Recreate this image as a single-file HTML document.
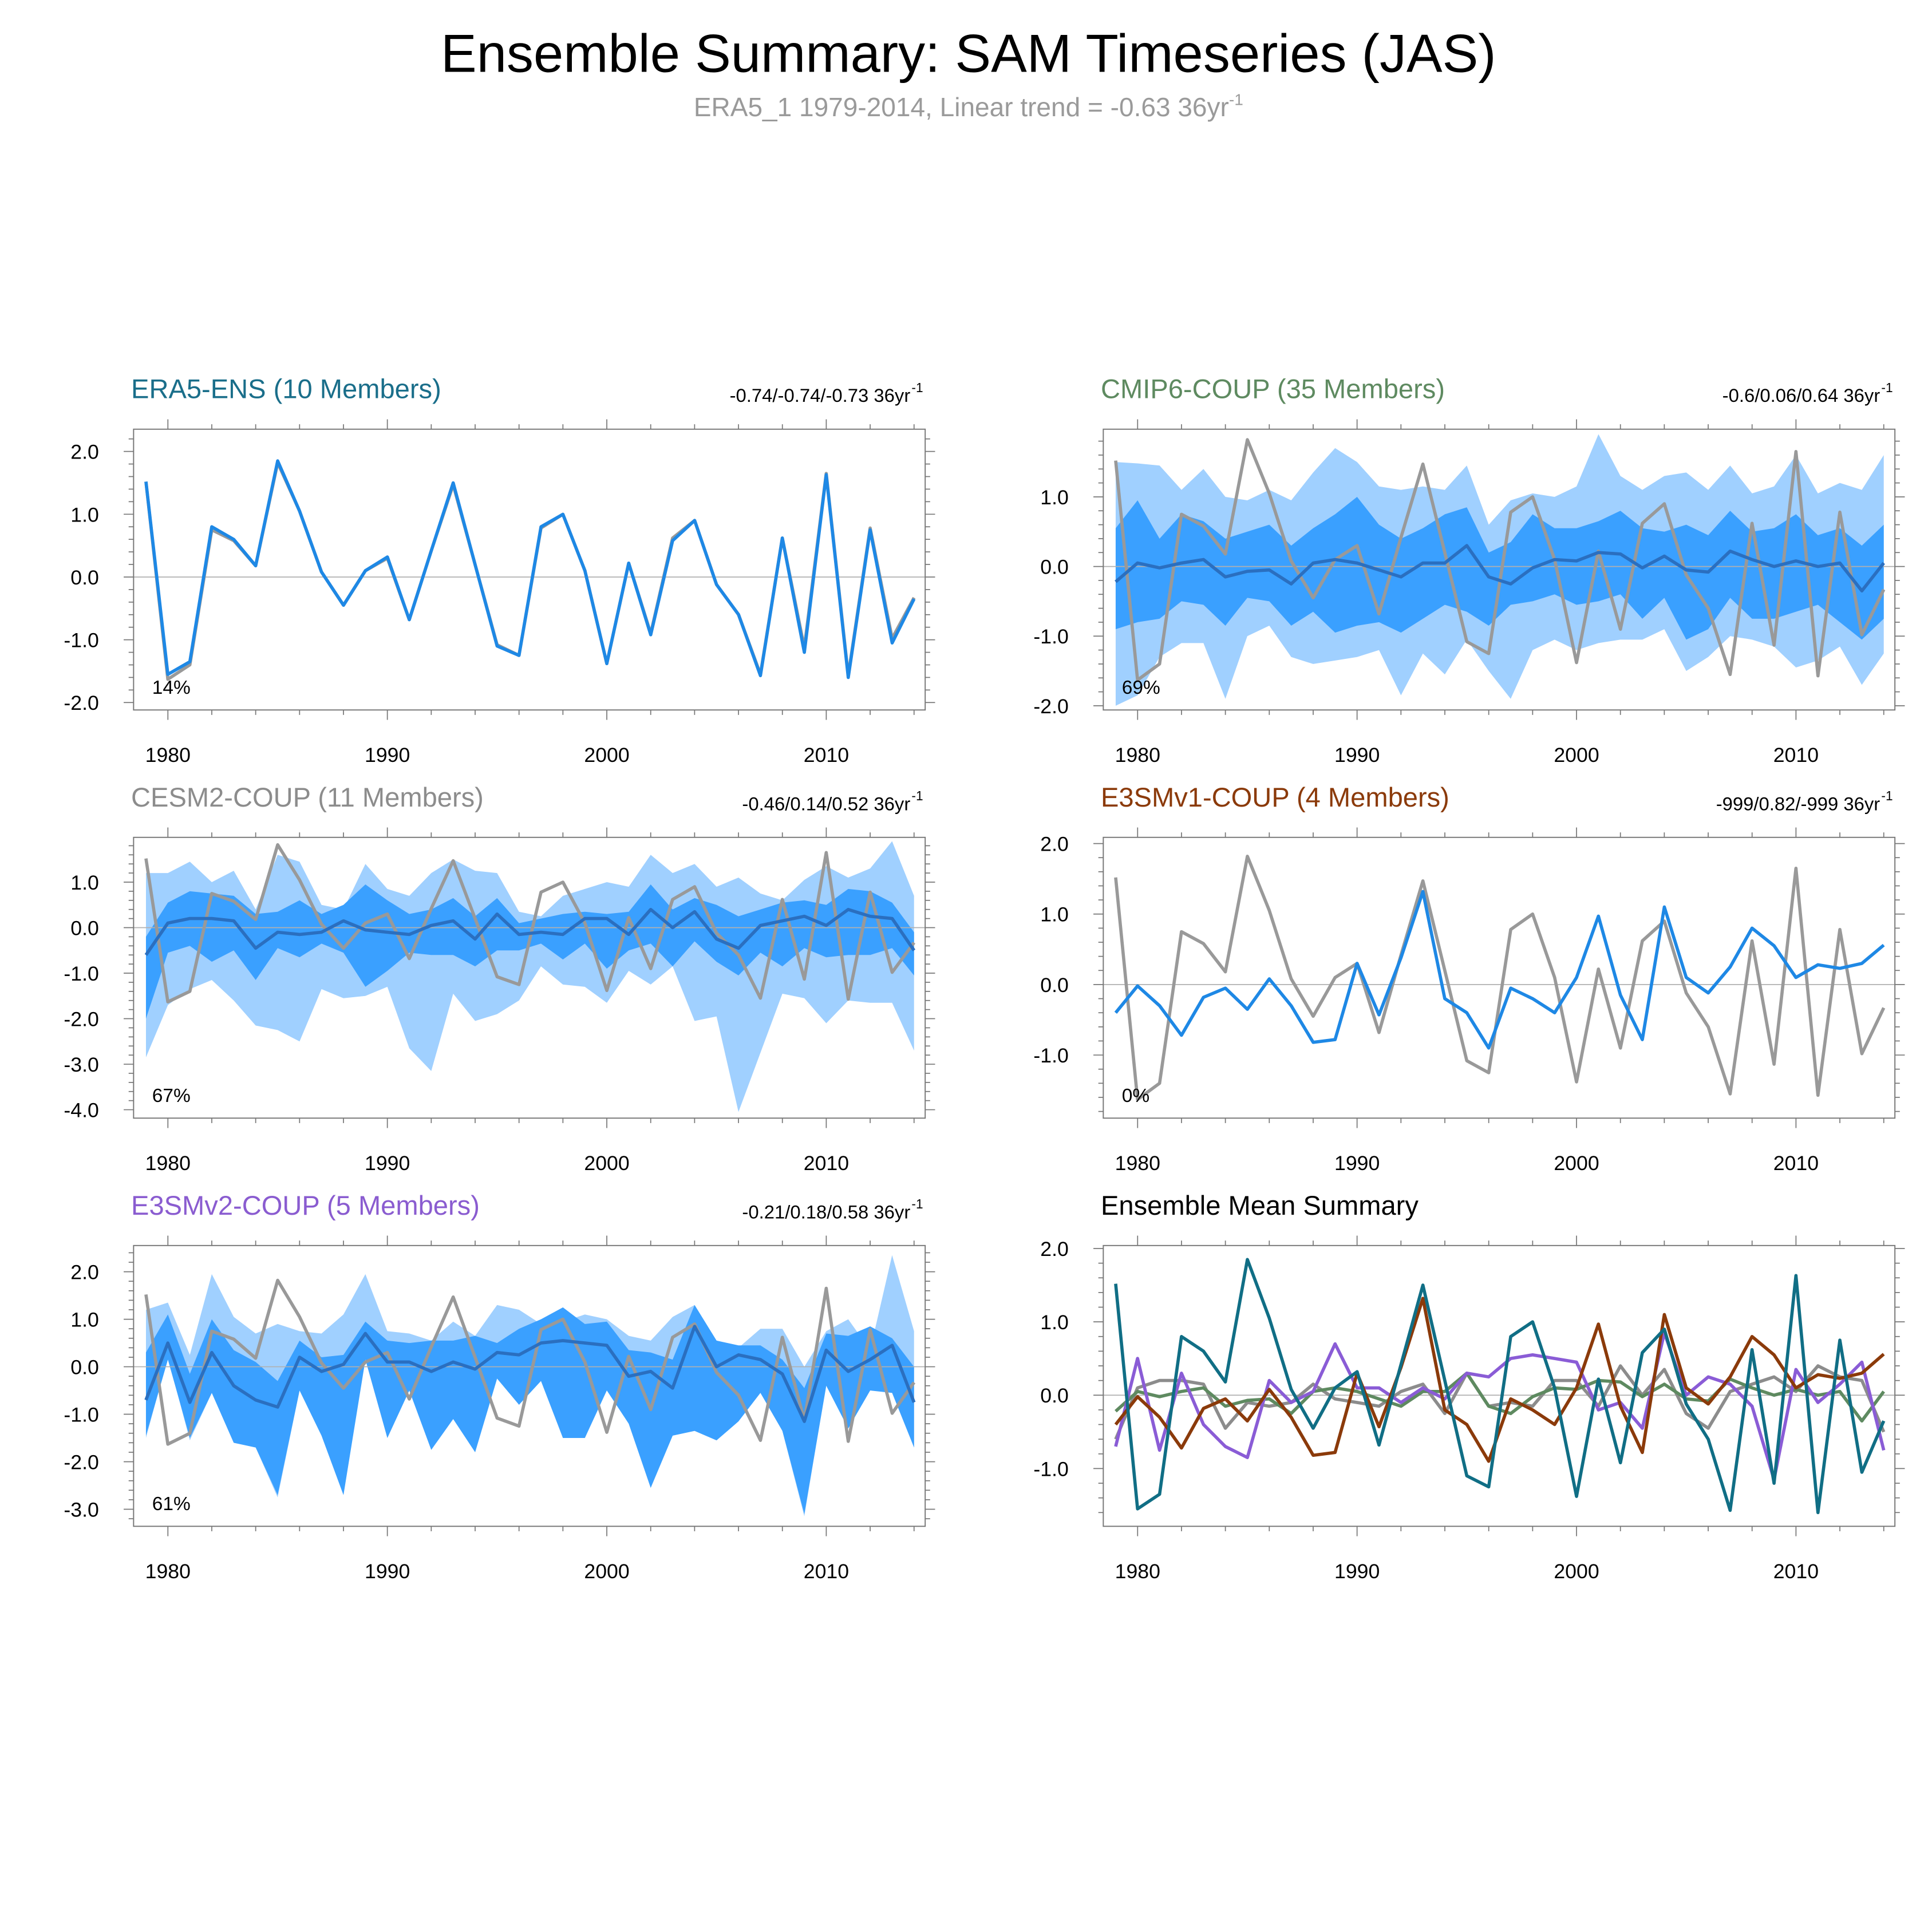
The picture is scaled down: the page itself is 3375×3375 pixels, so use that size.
<!DOCTYPE html>
<html><head><meta charset="utf-8">
<style>html,body{margin:0;padding:0;background:#fff}svg{display:block}text{font-family:"Liberation Sans",sans-serif}</style>
</head><body>
<svg id="chart" xmlns="http://www.w3.org/2000/svg" width="3375" height="3375" viewBox="0 0 1562 1562">
<text x="783" y="58" font-size="43.5" text-anchor="middle" fill="#000">Ensemble Summary: SAM Timeseries (JAS)</text>
<text x="783" y="94" font-size="21.3" text-anchor="middle" fill="#9a9a9a">ERA5_1 1979-2014, Linear trend = -0.63 36yr<tspan font-size="13" dy="-9">-1</tspan></text>
</svg>
<script>
const years = [];
for (let y = 1979; y <= 2014; y++) years.push(y);
const obsERA5 = [1.52,-1.63,-1.4,0.75,0.58,0.18,1.82,1.05,0.08,-0.45,0.1,0.3,-0.68,0.42,1.47,0.2,-1.08,-1.25,0.78,1.0,0.1,-1.38,0.22,-0.9,0.62,0.9,-0.12,-0.6,-1.55,0.62,-1.13,1.65,-1.57,0.78,-0.98,-0.33];
const era5Mean = [1.52,-1.55,-1.35,0.8,0.6,0.18,1.85,1.05,0.08,-0.45,0.1,0.32,-0.68,0.42,1.5,0.2,-1.1,-1.25,0.8,1.0,0.1,-1.38,0.22,-0.92,0.58,0.9,-0.12,-0.6,-1.57,0.62,-1.2,1.63,-1.6,0.75,-1.05,-0.35];
const cmipMean = [-0.22,0.05,-0.02,0.05,0.1,-0.15,-0.07,-0.05,-0.25,0.05,0.1,0.05,-0.05,-0.15,0.05,0.05,0.3,-0.15,-0.25,-0.02,0.1,0.08,0.2,0.18,-0.02,0.15,-0.05,-0.08,0.22,0.1,0.0,0.08,0.0,0.05,-0.35,0.05];
const cmipOutHi = [1.5,1.48,1.45,1.1,1.4,1.0,0.95,1.1,0.95,1.35,1.7,1.5,1.15,1.1,1.15,1.1,1.45,0.6,0.95,1.05,1.0,1.15,1.9,1.3,1.1,1.3,1.35,1.1,1.45,1.05,1.15,1.6,1.05,1.2,1.1,1.6];
const cmipOutLo = [-2.0,-1.85,-1.3,-1.1,-1.1,-1.9,-1.0,-0.85,-1.3,-1.4,-1.35,-1.3,-1.2,-1.85,-1.25,-1.55,-1.05,-1.5,-1.9,-1.2,-1.05,-1.2,-1.1,-1.05,-1.05,-0.9,-1.5,-1.3,-1.0,-1.05,-1.15,-1.45,-1.35,-1.15,-1.7,-1.25];
const cmipInHi = [0.55,0.95,0.4,0.75,0.65,0.4,0.5,0.6,0.3,0.55,0.75,1.0,0.6,0.4,0.55,0.75,0.85,0.2,0.35,0.75,0.55,0.55,0.65,0.8,0.55,0.5,0.6,0.45,0.8,0.5,0.55,0.75,0.45,0.55,0.3,0.6];
const cmipInLo = [-0.9,-0.8,-0.75,-0.5,-0.55,-0.85,-0.45,-0.5,-0.85,-0.65,-0.95,-0.85,-0.8,-0.95,-0.75,-0.55,-0.65,-0.85,-0.55,-0.5,-0.4,-0.55,-0.5,-0.4,-0.75,-0.45,-1.05,-0.9,-0.45,-0.75,-0.75,-0.65,-0.55,-0.8,-1.05,-0.75];
const cesmMean = [-0.6,0.1,0.2,0.2,0.15,-0.45,-0.1,-0.15,-0.1,0.15,-0.05,-0.1,-0.15,0.05,0.15,-0.25,0.3,-0.15,-0.1,-0.15,0.2,0.2,-0.15,0.4,0.0,0.35,-0.25,-0.45,0.05,0.15,0.25,0.05,0.4,0.25,0.2,-0.5];
const cesmOutHi = [1.2,1.2,1.45,1.0,1.25,0.4,1.6,1.45,0.5,0.4,1.4,0.85,0.7,1.2,1.5,1.25,1.2,0.35,0.25,0.7,0.85,1.0,0.9,1.6,1.2,1.4,0.9,1.1,0.75,0.6,1.05,1.35,1.1,1.3,1.9,0.7];
const cesmOutLo = [-2.85,-1.7,-1.35,-1.15,-1.6,-2.15,-2.25,-2.5,-1.35,-1.55,-1.5,-1.3,-2.65,-3.15,-1.45,-2.05,-1.9,-1.6,-0.85,-1.25,-1.3,-1.65,-0.95,-1.25,-0.85,-2.05,-1.95,-4.05,-2.75,-1.45,-1.55,-2.1,-1.6,-1.65,-1.65,-2.7];
const cesmInHi = [-0.2,0.55,0.8,0.75,0.7,0.3,0.35,0.6,0.3,0.5,0.95,0.6,0.3,0.4,0.65,0.25,0.65,0.1,0.2,0.3,0.35,0.3,0.35,0.95,0.4,0.65,0.5,0.25,0.4,0.55,0.6,0.5,0.85,0.8,0.55,-0.1];
const cesmInLo = [-2.0,-0.55,-0.4,-0.75,-0.5,-1.15,-0.45,-0.65,-0.35,-0.55,-1.3,-0.95,-0.55,-0.6,-0.6,-0.85,-0.5,-0.5,-0.35,-0.7,-0.35,-0.9,-0.5,-0.35,-0.85,-0.3,-0.75,-1.05,-0.55,-0.85,-0.45,-0.65,-0.6,-0.6,-0.45,-1.05];
const v1Mean = [-0.4,-0.02,-0.3,-0.72,-0.18,-0.05,-0.35,0.08,-0.3,-0.82,-0.78,0.3,-0.43,0.38,1.32,-0.2,-0.4,-0.9,-0.05,-0.2,-0.4,0.1,0.97,-0.15,-0.78,1.1,0.1,-0.12,0.25,0.8,0.55,0.1,0.28,0.23,0.3,0.56];
const v2Mean = [-0.7,0.5,-0.75,0.3,-0.4,-0.7,-0.85,0.2,-0.1,0.05,0.7,0.1,0.1,-0.1,0.1,-0.05,0.3,0.25,0.5,0.55,0.5,0.45,-0.2,-0.1,-0.45,0.85,0.0,0.25,0.15,-0.15,-1.15,0.35,-0.1,0.15,0.45,-0.75];
const v2OutHi = [1.2,1.35,0.25,1.95,1.05,0.7,0.9,0.75,0.7,1.1,1.95,0.75,0.7,0.55,0.95,0.65,1.3,1.2,0.9,0.95,1.1,1.0,0.65,0.55,1.05,1.3,0.55,0.4,0.8,0.8,0.0,0.75,1.0,0.35,2.35,0.75];
const v2OutLo = [-1.5,0.2,-1.55,-0.55,-1.6,-1.7,-2.75,-0.5,-1.45,-2.7,0.2,-1.5,-0.5,-1.75,-1.1,-1.8,-0.2,-0.8,-0.25,-1.5,-1.5,-0.45,-1.2,-2.55,-1.45,-1.35,-1.55,-1.15,-0.5,-1.35,-3.15,-0.35,-1.3,-0.5,-0.5,-1.7];
const v2InHi = [0.3,1.1,-0.15,1.0,0.35,0.1,-0.3,0.55,0.2,0.25,0.95,0.55,0.5,0.55,0.55,0.65,0.5,0.8,1.0,1.25,0.9,0.95,0.35,0.3,0.15,1.3,0.55,0.45,0.45,0.15,-0.45,0.7,0.65,0.85,0.6,0.0];
const v2InLo = [-1.45,0.15,-1.5,-0.55,-1.6,-1.7,-2.7,-0.5,-1.45,-2.7,0.15,-1.5,-0.5,-1.75,-1.1,-1.8,-0.25,-0.8,-0.3,-1.5,-1.5,-0.5,-1.2,-2.55,-1.45,-1.35,-1.55,-1.15,-0.55,-1.35,-3.1,-0.4,-1.3,-0.5,-0.55,-1.7];
const xTickYears = [1980,1990,2000,2010];

const NS = "http://www.w3.org/2000/svg";
const svg = document.getElementById('chart');
function mk(tag, attrs, parent) {
  const e = document.createElementNS(NS, tag);
  for (const k in attrs) e.setAttribute(k, attrs[k]);
  (parent || svg).appendChild(e);
  return e;
}
const LIGHT = "#a0d0ff", DARK = "#3aa0ff", MEANC = "#2a6fc0", OBS = "#999999", BLUE = "#1e88e5";

function panel(cfg) {
  const g = mk('g', {});
  
  
  const L = cfg.left, R = L + 640, T = cfg.top, B = T + 227;
  const xs = yr => L + 10 + (yr - 1979) * (621 / 35);
  const ys = v => cfg.zeroY + -v * cfg.ppu;
  const lineStr = arr => arr.map((v, i) => xs(years[i]).toFixed(1) + ',' + ys(v).toFixed(1)).join(' ');
  const band = (hi, lo, fill, nm) => {
    const pts = hi.map((v, i) => xs(years[i]) + ',' + ys(v)).concat(lo.map((v, i) => [xs(years[i]), ys(v)]).reverse().map(p => p[0] + ',' + p[1]));
    const p = mk('polygon', { points: pts.join(' '), fill: fill }, g);
    
    
  };
  if (cfg.outHi) band(cfg.outHi, cfg.outLo, LIGHT, 'outer-spread-band');
  if (cfg.inHi) band(cfg.inHi, cfg.inLo, DARK, 'inner-spread-band');
  const z = mk('line', { x1: L, x2: R, y1: ys(0), y2: ys(0), stroke: '#b0b0b0', 'stroke-width': 0.8 }, g);
  
  
  cfg.lines.forEach(ln => {
    const p = mk('polyline', { points: lineStr(ln.data), fill: 'none', stroke: ln.color, 'stroke-width': 2.6, 'stroke-linejoin': 'round' }, g);
    
    
  });
  const box = mk('rect', { x: L, y: T, width: 640, height: 227, fill: 'none', stroke: '#777', 'stroke-width': 0.9 }, g);
  
  
  for (let v = cfg.yMin; v <= cfg.yMax + 1e-6; v += 0.2) {
    const y = ys(v);
    if (y < T - 0.5 || y > B + 0.5) continue;
    const major = Math.abs(v - Math.round(v)) < 1e-6;
    const len = major ? 8 : 4;
    mk('line', { x1: L - len, x2: L, y1: y, y2: y, stroke: '#777', 'stroke-width': 0.8 }, g);
    mk('line', { x1: R, x2: R + len, y1: y, y2: y, stroke: '#777', 'stroke-width': 0.8 }, g);
    if (major) {
      const t = mk('text', { x: L - 28, y: y + 6, 'font-size': 16.5, 'text-anchor': 'end', fill: '#000' }, g);
      t.textContent = Math.round(v).toFixed(1);
      
      
    }
  }
  for (let yr = 1980; yr <= 2014; yr += 2) {
    const x = xs(yr), major = yr % 10 === 0, len = major ? 8 : 4;
    mk('line', { x1: x, x2: x, y1: B, y2: B + len, stroke: '#777', 'stroke-width': 0.8 }, g);
    mk('line', { x1: x, x2: x, y1: T - len, y2: T, stroke: '#777', 'stroke-width': 0.8 }, g);
  }
  xTickYears.forEach(yr => {
    const t = mk('text', { x: xs(yr), y: B + 42, 'font-size': 16.5, 'text-anchor': 'middle', fill: '#000' }, g);
    t.textContent = yr;
    
    
  });
  const tt = mk('text', { x: L - 2, y: T - 25, 'font-size': 21.8, fill: cfg.titleColor }, g);
  tt.textContent = cfg.title;
  
  
  if (cfg.trend) {
    const tr = mk('text', { x: R - 12, y: T - 22, 'font-size': 15.2, 'text-anchor': 'end', fill: '#000' }, g);
    tr.textContent = cfg.trend + ' 36yr';
    
    
    const sup = mk('text', { x: R - 11, y: T - 30, 'font-size': 10.5, fill: '#000' }, g);
    sup.textContent = '-1';
    
    
  }
  if (cfg.pct) {
    const pc = mk('text', { x: L + 15, y: B - 13, 'font-size': 15.5, fill: '#000' }, g);
    pc.textContent = cfg.pct;
    
    
  }
}

panel({ name: 'panel-era5-ens', left: 108, top: 347, zeroY: 466.5, ppu: 50.75, yMin: -2.2, yMax: 2.2,
  title: 'ERA5-ENS (10 Members)', titleColor: '#1a6e8a', trend: '-0.74/-0.74/-0.73', pct: '14%',
  lines: [{ data: obsERA5, color: OBS, name: 'obs-line' }, { data: era5Mean, color: BLUE, name: 'ensemble-mean-line' }] });
panel({ name: 'panel-cmip6-coup', left: 892, top: 347, zeroY: 458, ppu: 56.3, yMin: -2.2, yMax: 2.0,
  title: 'CMIP6-COUP (35 Members)', titleColor: '#5e8a60', trend: '-0.6/0.06/0.64', pct: '69%',
  outHi: cmipOutHi, outLo: cmipOutLo, inHi: cmipInHi, inLo: cmipInLo,
  lines: [{ data: obsERA5, color: OBS, name: 'obs-line' }, { data: cmipMean, color: MEANC, name: 'ensemble-mean-line' }] });
panel({ name: 'panel-cesm2-coup', left: 108, top: 677, zeroY: 750, ppu: 36.8, yMin: -4.4, yMax: 2.0,
  title: 'CESM2-COUP (11 Members)', titleColor: '#8c8c8c', trend: '-0.46/0.14/0.52', pct: '67%',
  outHi: cesmOutHi, outLo: cesmOutLo, inHi: cesmInHi, inLo: cesmInLo,
  lines: [{ data: obsERA5, color: OBS, name: 'obs-line' }, { data: cesmMean, color: MEANC, name: 'ensemble-mean-line' }] });
panel({ name: 'panel-e3smv1-coup', left: 892, top: 677, zeroY: 796, ppu: 57, yMin: -2.0, yMax: 2.2,
  title: 'E3SMv1-COUP (4 Members)', titleColor: '#8b3a0a', trend: '-999/0.82/-999', pct: '0%',
  lines: [{ data: obsERA5, color: OBS, name: 'obs-line' }, { data: v1Mean, color: BLUE, name: 'ensemble-mean-line' }] });
panel({ name: 'panel-e3smv2-coup', left: 108, top: 1007, zeroY: 1105, ppu: 38.4, yMin: -3.4, yMax: 2.6,
  title: 'E3SMv2-COUP (5 Members)', titleColor: '#8a5cd0', trend: '-0.21/0.18/0.58', pct: '61%',
  outHi: v2OutHi, outLo: v2OutLo, inHi: v2InHi, inLo: v2InLo,
  lines: [{ data: obsERA5, color: OBS, name: 'obs-line' }, { data: v2Mean, color: MEANC, name: 'ensemble-mean-line' }] });
panel({ name: 'panel-ensemble-mean-summary', left: 892, top: 1007, zeroY: 1128, ppu: 59.3, yMin: -1.8, yMax: 2.2,
  title: 'Ensemble Mean Summary', titleColor: '#000',
  lines: [
    { data: cesmMean, color: '#8c8c8c', name: 'cesm2-mean-line' },
    { data: cmipMean, color: '#5e8a60', name: 'cmip6-mean-line' },
    { data: v2Mean, color: '#8a5cd6', name: 'e3smv2-mean-line' },
    { data: v1Mean, color: '#8b3a0a', name: 'e3smv1-mean-line' },
    { data: era5Mean, color: '#106e85', name: 'era5-mean-line' }] });
</script>
</body></html>
